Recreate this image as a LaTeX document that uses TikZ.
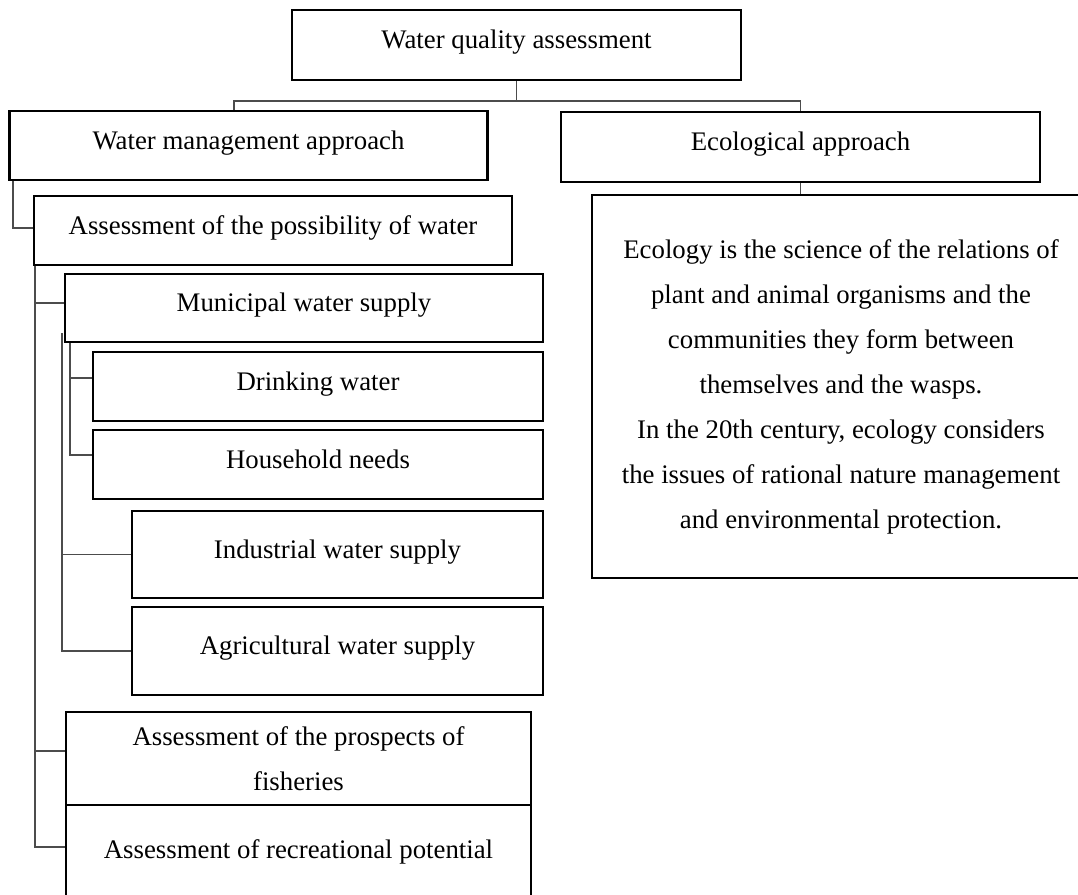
\documentclass[tikz,border=0pt]{standalone}
\usepackage{fontspec}
\setmainfont{Liberation Serif}
\usepackage{tikz}
\usetikzlibrary{shapes}

\begin{document}
\begin{tikzpicture}[node distance=40pt, auto]
	
	\tikzstyle{box} = [draw, rectangle, line width=1.3pt, inner sep=0pt, align=center, font=\fontsize{13.4pt}{22.5pt}\selectfont]
	
	\tikzstyle{one line} = [box, text height=10pt, text depth=6.5pt]
	
	\tikzstyle{line} = [draw, line width=0.85pt, color=black!70]
	
	\useasboundingbox (0,0) rectangle (539pt,-447.5pt);
	\clip (0,0) rectangle (539pt,-447.5pt);
	
	\node[one line, minimum width=224.5pt, minimum height=35pt] (water quality assessment) at (258.25pt,-22.5pt) {Water quality assessment};
	\node[one line, minimum width=239pt, minimum height=34.5pt, node distance=50.25pt, xshift=-134pt] (water management approach) [below of=water quality assessment] {Water management approach};
	\node[one line, minimum width=239.5pt, minimum height=35pt, node distance=51pt, xshift=142pt] (ecological approach) [below of=water quality assessment] {Ecological approach};
	\node[box, minimum width=249pt, minimum height=191.5pt, node distance=119.75pt, xshift=20.25pt] (ecology is the science) [below of=ecological approach] {Ecology is the science of the relations of\\plant and animal organisms and the\\communities they form between\\themselves and the wasps.\\In the 20th century, ecology considers\\the issues of rational nature management\\and environmental protection.};
	\node[one line, minimum width=239pt, minimum height=34.5pt, node distance=42.5pt, xshift=12.25pt] (possibility of water) [below of=water management approach] {Assessment of the possibility of water};
	\node[one line, minimum width=239pt, minimum height=34pt, node distance=38.75pt, xshift=15.5pt] (municipal water supply) [below of=possibility of water] {Municipal water supply};
	\node[one line, minimum width=225pt, minimum height=34.5pt, node distance=39.25pt, xshift=7pt] (drinking water) [below of=municipal water supply] {Drinking water};
	\node[one line, minimum width=225pt, minimum height=34.5pt, node distance=39pt] (household needs) [below of=drinking water] {Household needs};
	\node[one line, minimum width=205.5pt, minimum height=43.5pt, node distance=45pt, xshift=9.75pt] (industrial water supply) [below of=household needs] {Industrial water supply};
	\node[one line, minimum width=205.5pt, minimum height=44pt, node distance=48.25pt] (agricultural water supply) [below of=industrial water supply] {Agricultural water supply};
	\node[box, minimum width=232.5pt, minimum height=46.5pt, node distance=53.75pt, xshift=-19.5pt] (prospects of fisheries) [below of=agricultural water supply] {Assessment of the prospects of\\fisheries};
	\node[one line, minimum width=232.5pt, minimum height=50pt, node distance=48.25pt] (recreational potential) [below of=prospects of fisheries] {Assessment of recreational potential};
	
	\path [line] (water quality assessment.south) -- ++(0,-10pt) coordinate (split) -| ([xshift=-7.25pt]water management approach.north);
	\path [line] (split) -| (ecological approach.north);
	\path [line] (ecological approach.south) -- (ecological approach.south |- ecology is the science.north);
	
	\path [line] ([xshift=2.5pt]water management approach.south west) |- ([yshift=1.25pt]possibility of water.west);
	
	\path [line] ([xshift=1pt]possibility of water.south west) |- ([yshift=2.5pt]municipal water supply.west);
	\path [line] ([xshift=1pt]possibility of water.south west) |- ([yshift=3.75pt]prospects of fisheries.west);
	\path [line] ([xshift=1pt]possibility of water.south west) |- ([yshift=4pt]recreational potential.west);
	
	\path [line] ([xshift=3pt]municipal water supply.south west) |- ([yshift=4.25pt]drinking water.west);
	\path [line] ([xshift=3pt]municipal water supply.south west) |- ([yshift=4.75pt]household needs.west);
	
	\path [line] ([xshift=-1pt,yshift=5pt]municipal water supply.south west) |- (industrial water supply.west);
	\path [line] ([xshift=-1pt,yshift=5pt]municipal water supply.south west) |- (agricultural water supply.west);
	
\end{tikzpicture}
\end{document}
